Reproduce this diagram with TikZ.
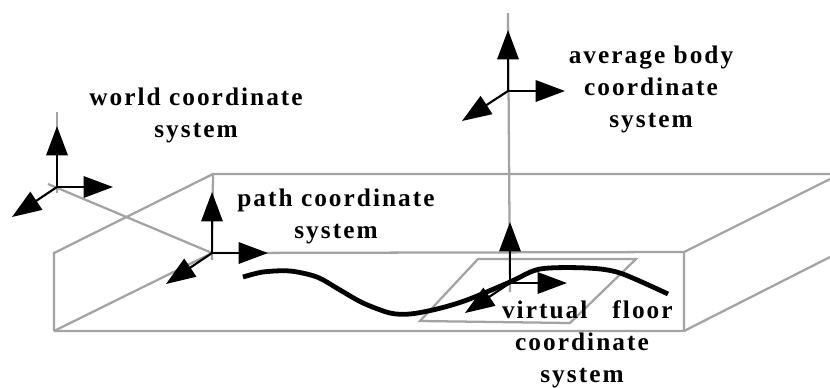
\documentclass[tikz,border=0pt]{standalone}
\usepackage{fontspec}
\setmainfont[LetterSpace=8]{Liberation Serif}
\usetikzlibrary{arrows.meta}

\begin{document}
\begin{tikzpicture}[x=0.75pt,y=-0.75pt,
    axis/.style={draw=black,line width=1.6pt,-{Triangle[length=22pt,width=16pt]}},
    edge/.style={draw=black!36,line width=1.7pt},
    pathline/.style={draw=black,line width=3.6pt},
    label/.style={font=\bfseries\fontsize{19}{24}\selectfont,align=center,inner sep=0pt}]
  \useasboundingbox (0,0) rectangle (830,387);

  % box corners
  \coordinate (b0) at (213,174);
  \coordinate (b1) at (830,174);
  \coordinate (b2) at (54,253);
  \coordinate (b3) at (54,331);
  \coordinate (b4) at (684,252);
  \coordinate (b5) at (684,331);
  \coordinate (b6) at (830,179);
  \coordinate (b7) at (830,257);

  % frame origins
  \coordinate (world)  at (57,187);
  \coordinate (pathc)  at (212,253);
  \coordinate (body)   at (508,91);
  \coordinate (floor)  at (510,283);

  % axis tips
  \coordinate (worldz) at (57,126);
  \coordinate (worldx) at (113,187);
  \coordinate (worldy) at (12,217);
  \coordinate (pathz)  at (212,192);
  \coordinate (pathx)  at (268,253);
  \coordinate (pathy)  at (166,284);
  \coordinate (bodyz)  at (508,30);
  \coordinate (bodyx)  at (565,91);
  \coordinate (bodyy)  at (462,121);
  \coordinate (floorz) at (510,222);
  \coordinate (floorx) at (567,283);
  \coordinate (floory) at (465,313);

  % gray line ends
  \coordinate (worldt) at (57,112);
  \coordinate (worldb) at (57,193);
  \coordinate (worlds) at (48,184);
  \coordinate (pathb)  at (212,260);
  \coordinate (bodyt)  at (508,13);
  \coordinate (floorb) at (510,292);

  % virtual floor
  \coordinate (f0) at (420,321);
  \coordinate (f1) at (478,259);
  \coordinate (f2) at (636,259);
  \coordinate (f3) at (570,323);

  % walking path
  \coordinate (p0) at (243,277);
  \coordinate (p1) at (263,272);
  \coordinate (p2) at (290,271);
  \coordinate (p3) at (317,277);
  \coordinate (p4) at (340,290);
  \coordinate (p5) at (363,303);
  \coordinate (p6) at (390,313);
  \coordinate (p7) at (410,314);
  \coordinate (p8) at (437,309);
  \coordinate (p9) at (467,300);
  \coordinate (p10) at (510,282);
  \coordinate (p11) at (540,269);
  \coordinate (p12) at (587,268);
  \coordinate (p13) at (620,273);
  \coordinate (p14) at (668,294);

  \draw[edge] (b3) -- (b2) -- (b0) -- (b1);
  \draw[edge] (b3) -- (b5) -- (b4) -- (pathc);
  \draw[edge] (b3) -- (pathc);
  \draw[edge] (b4) -- (b6);
  \draw[edge] (b5) -- (b7);
  \draw[edge] (b0) -- (pathb);
  \draw[edge] (worlds) -- (pathc);
  \draw[edge] (worldt) -- (worldb);
  \draw[edge] (bodyt) -- (floorb);
  \draw[edge] (f0) -- (f1) -- (f2) -- (f3) -- cycle;

  \draw[pathline] plot[smooth,tension=0.5] coordinates {(p0) (p1) (p2) (p3) (p4) (p5) (p6) (p7) (p8) (p9) (p10) (p11) (p12) (p13) (p14)};

  \draw[axis] (world) -- (worldz);
  \draw[axis] (world) -- (worldx);
  \draw[axis] (world) -- (worldy);

  \draw[axis] (pathc) -- (pathz);
  \draw[axis] (pathc) -- (pathx);
  \draw[axis] (pathc) -- (pathy);

  \draw[axis] (body) -- (bodyz);
  \draw[axis] (body) -- (bodyx);
  \draw[axis] (body) -- (bodyy);

  \draw[axis] (floor) -- (floorz);
  \draw[axis] (floor) -- (floorx);
  \draw[axis] (floor) -- (floory);

  \node[label] (worldlabel) at (196,115) {world coordinate\\system};
  \node[label] (pathlabel)  at (336,216) {path coordinate\\system};
  \node[label] (bodylabel)  at (651,89)  {average body\\coordinate\\system};
  \node[label] (floorlabel) at (582,344) {\hspace*{8pt}virtual\ \ \ floor\\coordinate\\system};
\end{tikzpicture}
\end{document}
